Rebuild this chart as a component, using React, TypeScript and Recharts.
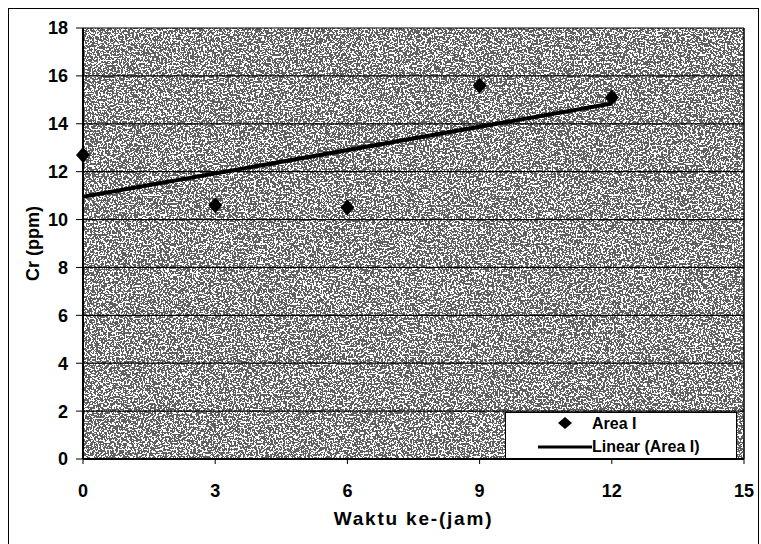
import React from "react";
import {
  ScatterChart,
  Scatter,
  XAxis,
  YAxis,
  CartesianGrid,
  ReferenceLine,
  Label,
} from "recharts";

const hours = [0, 3, 6, 9, 12];
const crValues = [12.7, 10.6, 10.5, 15.6, 15.1];
const trendHours = [0, 12];
const trendValues = [10.95, 14.85];
const xTicks = [0, 3, 6, 9, 12, 15];
const yTicks = [0, 2, 4, 6, 8, 10, 12, 14, 16, 18];
const seriesNames = ["Area I", "Linear (Area I)"];

const areaData = hours.map((h, i) => ({ x: h, y: crValues[i] }));
const trendData = trendHours.map((h, i) => ({ x: h, y: trendValues[i] }));

const FONT = "'Liberation Sans', Arial, sans-serif";

const Diamond = (props: any) => {
  const { cx, cy } = props;
  return (
    <polygon
      points={`${cx},${cy - 8} ${cx + 7},${cy} ${cx},${cy + 8} ${cx - 7},${cy}`}
      fill="#000"
    />
  );
};

const LegendBox = () => (
  <div
    style={{
      position: "absolute",
      left: 505,
      top: 412,
      width: 232,
      height: 47,
      boxSizing: "border-box",
      border: "1px solid #000",
      background: "#fff",
      fontFamily: FONT,
      fontWeight: "bold",
      fontSize: 16,
      lineHeight: "18px",
    }}
  >
    <svg width={232} height={47} style={{ position: "absolute", left: -1, top: -1 }}>
      <polygon points="60,5 67,11 60,17 53,11" fill="#000" />
      <line x1={33} y1={35} x2={87} y2={35} stroke="#000" strokeWidth={3} />
    </svg>
    <div style={{ position: "absolute", left: 86, top: 2 }}>{seriesNames[0]}</div>
    <div style={{ position: "absolute", left: 86, top: 25 }}>{seriesNames[1]}</div>
  </div>
);

export default function App() {
  return (
    <div
      style={{
        position: "absolute",
        left: 0,
        top: 0,
        width: 761,
        height: 544,
        background: "#fff",
        overflow: "hidden",
      }}
    >
      <svg width={0} height={0} style={{ position: "absolute" }}>
        <defs>
          <filter id="stip" x="0" y="0" width="100%" height="100%">
            <feTurbulence type="fractalNoise" baseFrequency="0.55" numOctaves={2} seed={4} />
            <feColorMatrix
              type="matrix"
              values="0.33 0.33 0.33 0 -0.01  0.33 0.33 0.33 0 -0.01  0.33 0.33 0.33 0 -0.01  0 0 0 0 1"
            />
            <feComponentTransfer>
              <feFuncR type="discrete" tableValues="0.12 1" />
              <feFuncG type="discrete" tableValues="0.12 1" />
              <feFuncB type="discrete" tableValues="0.12 1" />
            </feComponentTransfer>
          </filter>
          <pattern id="stipple" patternUnits="userSpaceOnUse" width={761} height={544}>
            <rect width={761} height={544} filter="url(#stip)" />
          </pattern>
        </defs>
      </svg>
      <div
        style={{
          position: "absolute",
          left: 8,
          top: 8,
          width: 751,
          height: 560,
          border: "1px solid #000",
          boxSizing: "border-box",
        }}
      />
      <ScatterChart
        width={761}
        height={544}
        margin={{ top: 28, right: 17, bottom: 25, left: 28 }}
        style={{ fontFamily: FONT, position: "absolute", left: 0, top: 0 }}
      >
        <CartesianGrid
          vertical={false}
          stroke="#000"
          strokeWidth={1.2}
          fill="url(#stipple)"
          fillOpacity={1}
        />
        <XAxis
          type="number"
          dataKey="x"
          domain={[0, 15]}
          ticks={xTicks}
          height={60}
          tickSize={5}
          tickMargin={20}
          axisLine={{ stroke: "#000", strokeWidth: 2 }}
          tickLine={{ stroke: "#000" }}
          tick={{ fill: "#000", fontSize: 18, fontWeight: "bold", fontFamily: FONT }}
        >
          <Label
            value="Waktu ke-(jam)"
            position="bottom"
            offset={-7}
            style={{ fill: "#000", fontSize: 19, fontWeight: "bold", fontFamily: FONT, letterSpacing: 1.8 }}
          />
        </XAxis>
        <YAxis
          type="number"
          dataKey="y"
          domain={[0, 18]}
          ticks={yTicks}
          width={55}
          tickSize={7}
          tickMargin={8}
          axisLine={{ stroke: "#000", strokeWidth: 2 }}
          tickLine={{ stroke: "#000" }}
          tick={{ fill: "#000", fontSize: 18, fontWeight: "bold", fontFamily: FONT }}
        >
          <Label
            value="Cr (ppm)"
            angle={-90}
            position="insideLeft"
            offset={5}
            textAnchor="middle"
            style={{ fill: "#000", fontSize: 18, fontWeight: "bold", fontFamily: FONT, textAnchor: "middle" }}
          />
        </YAxis>
        <ReferenceLine x={15} stroke="#000" strokeWidth={1.5} />
        <Scatter
          name={seriesNames[1]}
          data={trendData}
          line={{ stroke: "#000", strokeWidth: 4 }}
          shape={() => <g />}
          isAnimationActive={false}
        />
        <Scatter
          name={seriesNames[0]}
          data={areaData}
          shape={<Diamond />}
          isAnimationActive={false}
        />
      </ScatterChart>
      <LegendBox />
    </div>
  );
}
